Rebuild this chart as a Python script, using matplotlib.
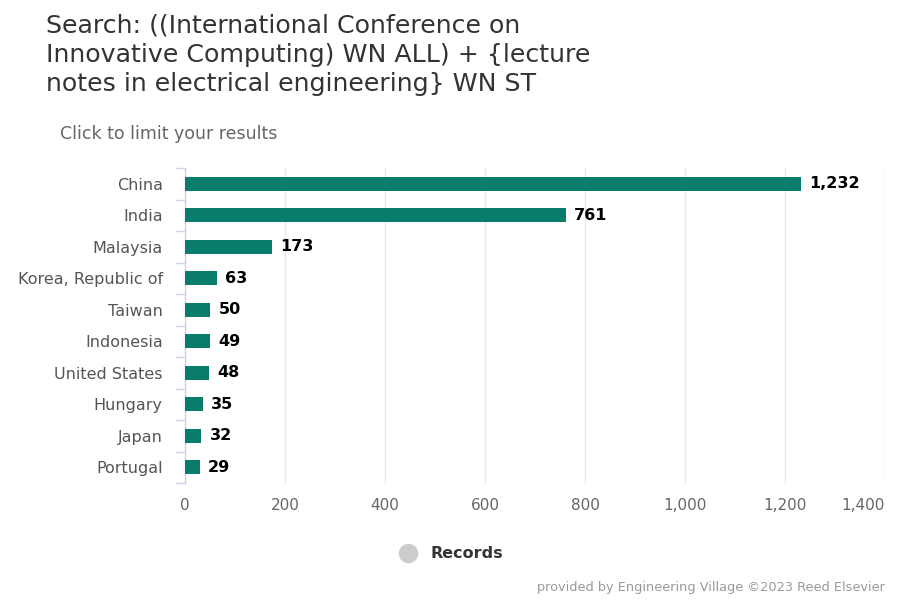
import numpy as np
import matplotlib.pyplot as plt
from matplotlib.lines import Line2D
from matplotlib.ticker import FuncFormatter, FixedLocator

# data
countries = ['China', 'India', 'Malaysia', 'Korea, Republic of', 'Taiwan',
             'Indonesia', 'United States', 'Hungary', 'Japan', 'Portugal']
records = [1232, 761, 173, 63, 50, 49, 48, 35, 32, 29]
x_ticks = [0, 200, 400, 600, 800, 1000, 1200, 1400]

bar_color = '#0a7c6b'
grid_color = '#e6e6e6'
axis_color = '#ccd6eb'

plt.rcParams['font.family'] = ['DejaVu Sans']

fig = plt.figure(figsize=(9, 6), dpi=100)
ax = fig.add_axes([185 / 900, 1 - 483 / 600, 700 / 900, 315 / 600])

y = np.arange(len(countries))
ax.barh(y, records, height=0.45, color=bar_color, zorder=3)
for yi, v in zip(y, records):
    ax.text(v + 17, yi, '{:,}'.format(v), va='center', ha='left',
            fontsize=11.5, fontweight='bold', color='#000000')

ax.set_ylim(len(countries) - 0.5, -0.5)
ax.set_xlim(0, 1400)
ax.set_yticks(y)
ax.set_yticklabels(countries, fontsize=11.5, color='#555555')
ax.yaxis.set_minor_locator(FixedLocator(np.arange(-0.5, len(countries), 1)))
ax.tick_params(axis='y', which='major', length=0, pad=16)
ax.tick_params(axis='y', which='minor', length=7, color=axis_color, width=1)

ax.xaxis.set_major_locator(FixedLocator(x_ticks))
ax.xaxis.set_major_formatter(FuncFormatter(lambda v, p: '{:,}'.format(int(v))))
ax.tick_params(axis='x', length=0, labelsize=11, labelcolor='#666666', pad=11)
ax.grid(axis='x', color=grid_color, linewidth=1, zorder=0)
# last label kept inside the plot like the original
ax.get_xticklabels()[-1].set_horizontalalignment('right')

for s in ['top', 'right', 'bottom']:
    ax.spines[s].set_visible(False)
ax.spines['left'].set_color(axis_color)
ax.spines['left'].set_linewidth(1)

# titles
fig.text(46 / 900, 1 - 14 / 600,
         'Search: ((International Conference on\nInnovative Computing) WN ALL) + {lecture\nnotes in electrical engineering} WN ST',
         fontsize=18.2, color='#333333', va='top', ha='left', linespacing=1.27)
fig.text(60 / 900, 1 - 134 / 600, 'Click to limit your results',
         fontsize=12.5, color='#666666', va='center', ha='left')

# legend
fig.lines.append(Line2D([408 / 900], [1 - 553 / 600], marker='o', markersize=13,
                        color='#cccccc', transform=fig.transFigure, figure=fig))
fig.text(430 / 900, 1 - 553 / 600, 'Records', fontsize=11.5, fontweight='bold',
         color='#333333', va='center', ha='left')

fig.text(885 / 900, 1 - 587 / 600,
         'provided by Engineering Village \u00a92023 Reed Elsevier',
         fontsize=9.3, color='#999999', va='center', ha='right')

fig.savefig('out.png', dpi=100, facecolor='white')
